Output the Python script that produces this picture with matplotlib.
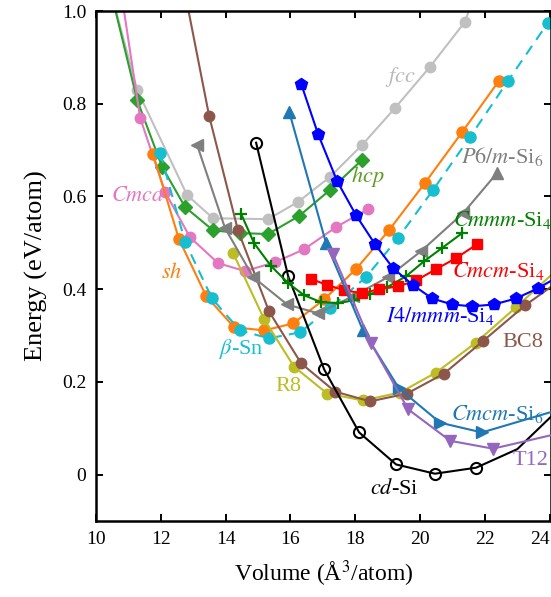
import numpy as np
import matplotlib
matplotlib.use("Agg")
import matplotlib.pyplot as plt

# data (volume in A^3/atom, energy in eV/atom)
#______________________________________________________________________________
cd_v    = [14.94, 15.93, 17.04, 18.12, 19.26, 20.46, 21.73]
cd_e    = [0.716, 0.428, 0.227, 0.091, 0.022, 0.002, 0.015]
cd_ext  = ([], [], [23.0, 24.04], [0.055, 0.125])

fcc_v   = [11.27, 12.81, 13.61, 15.31, 16.23, 17.22, 18.21, 19.23, 20.31, 21.39]
fcc_e   = [0.830, 0.603, 0.553, 0.551, 0.588, 0.642, 0.711, 0.791, 0.880, 0.977]
fcc_ext = ([10.5], [1.03], [21.6], [1.02])

hcp_v   = [11.27, 12.04, 12.75, 13.61, 14.44, 15.31, 16.27, 17.22, 18.21]
hcp_e   = [0.808, 0.664, 0.577, 0.527, 0.521, 0.519, 0.558, 0.614, 0.679]
hcp_ext = ([10.5], [1.03], [], [])

cmca_v  = [11.36, 12.13, 12.90, 13.77, 14.60, 15.52, 16.42, 17.41, 18.40]
cmca_e  = [0.770, 0.610, 0.512, 0.456, 0.439, 0.458, 0.486, 0.534, 0.573]
cmca_ext = ([10.8], [1.03], [], [])

sh_v    = [11.76, 12.56, 13.40, 14.26, 15.19, 16.08, 17.04, 18.02, 19.04, 20.15, 21.30, 22.44]
sh_e    = [0.692, 0.508, 0.385, 0.318, 0.311, 0.326, 0.378, 0.443, 0.527, 0.629, 0.739, 0.850]

bsn_v   = [11.98, 12.75, 13.58, 14.44, 15.34, 16.30, 17.22, 18.33, 19.32, 20.40, 21.54, 22.72, 23.95]
bsn_e   = [0.694, 0.502, 0.380, 0.311, 0.294, 0.307, 0.359, 0.426, 0.510, 0.614, 0.728, 0.850, 0.975]

r8_v    = [14.23, 15.19, 16.11, 17.13, 18.24, 19.38, 20.49, 21.73, 22.96]
r8_e    = [0.478, 0.335, 0.233, 0.175, 0.160, 0.177, 0.220, 0.285, 0.361]
r8_ext  = ([], [], [24.04], [0.43])

bc8_v   = [13.49, 14.38, 15.34, 16.33, 17.38, 18.46, 19.60, 20.74, 21.94, 23.24]
bc8_e   = [0.774, 0.527, 0.352, 0.240, 0.179, 0.158, 0.175, 0.218, 0.288, 0.365]
bc8_ext = ([12.8], [1.02], [24.04], [0.405])

p6m_v   = [13.12, 13.98, 14.85, 15.90, 16.85, 17.93, 19.01, 20.03, 21.33, 22.38]
p6m_e   = [0.711, 0.532, 0.426, 0.367, 0.348, 0.385, 0.426, 0.482, 0.564, 0.651]

cmmm_v  = [14.48, 14.88, 15.40, 15.93, 16.42, 16.94, 17.47, 17.96, 18.46, 18.98, 19.57, 20.12, 20.68, 21.30]
cmmm_e  = [0.562, 0.499, 0.450, 0.413, 0.387, 0.372, 0.370, 0.376, 0.389, 0.404, 0.428, 0.460, 0.489, 0.521]

cmcm4_v = [16.64, 17.13, 17.65, 18.21, 18.73, 19.32, 19.88, 20.49, 21.11, 21.76]
cmcm4_e = [0.422, 0.409, 0.398, 0.391, 0.400, 0.406, 0.419, 0.443, 0.467, 0.497]

i4m_v   = [16.33, 16.85, 17.44, 18.02, 18.61, 19.17, 19.78, 20.37, 20.99, 21.60, 22.28, 22.96, 23.64]
i4m_e   = [0.843, 0.735, 0.633, 0.560, 0.497, 0.445, 0.409, 0.380, 0.367, 0.363, 0.367, 0.380, 0.402]
i4m_ext = ([], [], [24.04], [0.418])

cmcm6_v = [15.96, 17.10, 18.24, 19.35, 20.62, 21.91]
cmcm6_e = [0.783, 0.499, 0.311, 0.186, 0.112, 0.091]
cmcm6_ext = ([], [], [24.04], [0.135])

t12_v   = [17.31, 18.49, 19.63, 20.93, 22.25]
t12_e   = [0.476, 0.283, 0.141, 0.073, 0.056]
t12_ext = ([], [], [24.04], [0.085])

# labels: text, position
#______________________________________________________________________________
labels = [
    (r"$fcc$",          19.38, 0.857, "#b8b8b8"),
    (r"$hcp$",          18.39, 0.643, "#5d9b23"),
    (r"$Cmca$",         11.30, 0.600, "#e377c2"),
    (r"$sh$",           12.32, 0.434, "#ff7f0e"),
    (r"$\beta$-Sn",     14.49, 0.270, "#17becf"),
    (r"R8",             15.94, 0.190, "#bcbd22"),
    (r"BC8",            23.16, 0.285, "#8c564b"),
    (r"$P6/m$-Si$_6$",  22.54, 0.686, "#7f7f7f"),
    (r"$Cmmm$-Si$_4$",  22.54, 0.550, "#008000"),
    (r"$Cmcm$-Si$_4$",  22.40, 0.440, "#ff0000"),
    (r"$I4/mmm$-Si$_4$", 20.62, 0.342, "#0000ff"),
    (r"$Cmcm$-Si$_6$",  22.38, 0.130, "#1f77b4"),
    (r"T12",            23.40, 0.030, "#9467bd"),
    (r"$cd$-Si",        19.20, -0.030, "black"),
]

# style
#______________________________________________________________________________
plt.rcParams["font.family"]      = "Liberation Serif"
plt.rcParams["mathtext.fontset"] = "stix"

fig = plt.figure(figsize=(5.51, 5.97), dpi=100)
ax  = fig.add_axes([96/551, 76/597, 455/551, 510/597])


def curve(v, e, ext, color, marker, ms, ls="-", mfc=None, mew=1.0, z=2):
    # line through the markers, plus the parts of the curve beyond them
    lv = list(ext[0]) + list(v) + list(ext[2])
    le = list(ext[1]) + list(e) + list(ext[3])
    ax.plot(lv, le, color=color, lw=1.5, ls=ls, zorder=z)
    if isinstance(marker, list):
        for xv, ev, mk in zip(v, e, marker):
            ax.plot(xv, ev, ls="none", marker=mk, ms=ms, color=color,
                    mec=color, mfc=color, zorder=z)
    else:
        ax.plot(v, e, ls="none", marker=marker, ms=ms, color=color,
                mfc=color if mfc is None else mfc, mec=color, mew=mew, zorder=z)


noext = ([], [], [], [])

curve(fcc_v,   fcc_e,   fcc_ext,   "#c0c0c0", "o", 7.5)
curve(hcp_v,   hcp_e,   hcp_ext,   "#2ca02c", "D", 7)
curve(cmca_v,  cmca_e,  cmca_ext,  "#e377c2", "o", 7.5)
curve(sh_v,    sh_e,    noext,     "#ff7f0e", "o", 8)
curve(bsn_v,   bsn_e,   noext,     "#17becf", "o", 8, ls=(0, (5, 3.5)))
curve(r8_v,    r8_e,    r8_ext,    "#bcbd22", "o", 7.5)
curve(bc8_v,   bc8_e,   bc8_ext,   "#8c564b", "o", 7.5)
curve(p6m_v,   p6m_e,   noext,     "#7f7f7f", ["<"]*9 + ["^"], 9)
curve(cd_v,    cd_e,    cd_ext,    "black",   "o", 8, mfc="none", mew=1.5, z=3)
curve(cmmm_v,  cmmm_e,  noext,     "#008000", "+", 9, mew=1.6, z=3)
curve(cmcm4_v, cmcm4_e, noext,     "#ff0000", "s", 7, z=3)
curve(i4m_v,   i4m_e,   i4m_ext,   "#0000ff", "p", 9, z=4)
curve(cmcm6_v, cmcm6_e, cmcm6_ext, "#1f77b4", ["^"]*3 + [">"]*3, 9, z=4)
curve(t12_v,   t12_e,   t12_ext,   "#9467bd", "v", 9, z=4)

for txt, xv, ev, col in labels:
    ax.text(xv, ev, txt, color=col, fontsize=16, ha="center", va="center", zorder=5)

# axes
#______________________________________________________________________________
ax.set_xlim(10, 24.04)
ax.set_ylim(-0.1, 1.0)
ax.set_xticks(np.arange(10, 25, 2))
ax.set_yticks([0, 0.2, 0.4, 0.6, 0.8, 1.0])
ax.set_yticklabels(["0", "0.2", "0.4", "0.6", "0.8", "1.0"])
ax.tick_params(direction="in", top=True, right=True, length=5, width=1.4,
               labelsize=14, pad=7)
for sp in ax.spines.values():
    sp.set_linewidth(1.8)

# last x label sits at the right edge of the figure
ax.get_xticklabels()[-1].set_horizontalalignment("right")

ax.set_xlabel("Volume (Å$^3$/atom)", fontsize=17, labelpad=8)
ax.set_ylabel("Energy (eV/atom)", fontsize=19, labelpad=10)

fig.savefig("out.png", dpi=100)
